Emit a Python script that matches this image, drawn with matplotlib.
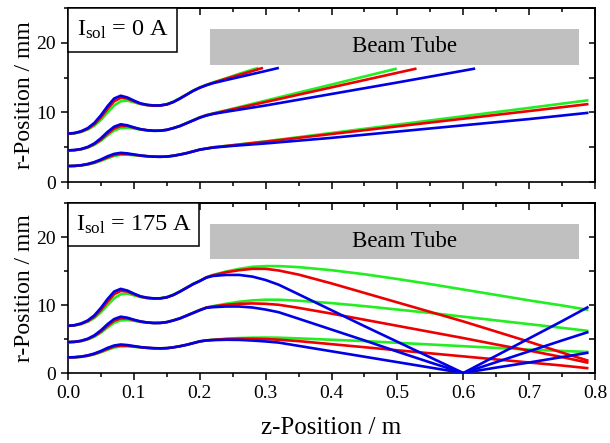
import numpy as np
import matplotlib
matplotlib.use("Agg")
import matplotlib.pyplot as plt
from matplotlib.patches import Rectangle
from matplotlib.ticker import MultipleLocator

plt.rcParams['font.family'] = ['Liberation Serif', 'DejaVu Serif']
plt.rcParams['mathtext.fontset'] = 'custom'
plt.rcParams['mathtext.rm'] = 'Liberation Serif'

# --- data (z in m, r in mm) ---
# lens region, same in both panels
Z_LENS = [0.00, 0.01, 0.02, 0.03, 0.04, 0.05, 0.06, 0.07, 0.08, 0.09, 0.10,
          0.11, 0.12, 0.13, 0.14, 0.15, 0.16, 0.17, 0.18, 0.19, 0.20]
OUTER_BLUE = [6.95, 7.05, 7.3, 7.75, 8.5, 9.6, 10.9, 12.0, 12.4, 12.15, 11.7,
              11.3, 11.1, 11.0, 11.0, 11.15, 11.5, 12.0, 12.55, 13.1, 13.55]
OUTER_RED = [6.95, 7.03, 7.25, 7.65, 8.3, 9.3, 10.5, 11.6, 12.1, 12.0, 11.6,
             11.25, 11.05, 10.98, 11.0, 11.15, 11.5, 12.0, 12.55, 13.1, 13.55]
OUTER_GREEN = [6.95, 7.0, 7.2, 7.55, 8.1, 8.95, 10.0, 11.0, 11.6, 11.7, 11.45,
               11.2, 11.05, 10.98, 11.02, 11.2, 11.55, 12.05, 12.6, 13.15, 13.6]
MIDDLE_BLUE = [4.55, 4.6, 4.75, 5.05, 5.55, 6.3, 7.2, 7.95, 8.3, 8.15, 7.85,
               7.6, 7.45, 7.37, 7.38, 7.5, 7.75, 8.05, 8.45, 8.85, 9.25]
MIDDLE_RED = [4.55, 4.59, 4.72, 5.0, 5.45, 6.1, 6.95, 7.7, 8.05, 8.05, 7.8,
              7.58, 7.44, 7.37, 7.38, 7.5, 7.75, 8.05, 8.45, 8.85, 9.27]
MIDDLE_GREEN = [4.55, 4.58, 4.7, 4.95, 5.35, 5.95, 6.7, 7.4, 7.75, 7.8, 7.7,
                7.52, 7.42, 7.36, 7.38, 7.5, 7.77, 8.08, 8.48, 8.9, 9.3]
INNER_BLUE = [2.3, 2.33, 2.42, 2.6, 2.87, 3.25, 3.7, 4.05, 4.2, 4.12, 3.97,
              3.82, 3.72, 3.65, 3.63, 3.66, 3.78, 3.95, 4.15, 4.4, 4.65]
INNER_RED = [2.3, 2.32, 2.4, 2.56, 2.8, 3.15, 3.55, 3.9, 4.05, 4.02, 3.92,
             3.8, 3.71, 3.65, 3.63, 3.66, 3.78, 3.95, 4.15, 4.4, 4.66]
INNER_GREEN = [2.3, 2.32, 2.38, 2.52, 2.74, 3.05, 3.42, 3.75, 3.92, 3.93, 3.86,
               3.77, 3.7, 3.65, 3.64, 3.67, 3.79, 3.96, 4.17, 4.42, 4.68]

# I_sol = 0 A, drift part (outer / middle rays stop at the beam tube)
Z0_OUTER_BLUE = [0.21, 0.22, 0.24, 0.27, 0.30, 0.32]
R0_OUTER_BLUE = [13.9, 14.2, 14.65, 15.3, 15.95, 16.4]
Z0_OUTER_RED = [0.21, 0.22, 0.24, 0.26, 0.28, 0.296]
R0_OUTER_RED = [13.95, 14.25, 14.85, 15.4, 15.95, 16.4]
Z0_OUTER_GREEN = [0.21, 0.22, 0.24, 0.26, 0.28, 0.289]
R0_OUTER_GREEN = [13.95, 14.3, 14.9, 15.55, 16.15, 16.4]
Z0_MIDDLE_BLUE = [0.21, 0.22, 0.24, 0.30, 0.40, 0.50, 0.618]
R0_MIDDLE_BLUE = [9.55, 9.78, 10.1, 11.0, 12.65, 14.3, 16.3]
Z0_MIDDLE_RED = [0.21, 0.22, 0.24, 0.30, 0.40, 0.529]
R0_MIDDLE_RED = [9.6, 9.82, 10.25, 11.5, 13.6, 16.3]
Z0_MIDDLE_GREEN = [0.21, 0.22, 0.24, 0.30, 0.40, 0.499]
R0_MIDDLE_GREEN = [9.62, 9.86, 10.3, 11.7, 14.0, 16.3]
Z0_INNER = [0.21, 0.22, 0.25, 0.30, 0.35, 0.40, 0.50, 0.60, 0.70, 0.79]
R0_INNER_BLUE = [4.8, 4.95, 5.2, 5.55, 5.95, 6.35, 7.25, 8.15, 9.05, 9.95]
R0_INNER_RED = [4.82, 4.98, 5.28, 5.8, 6.35, 6.9, 8.0, 9.1, 10.2, 11.2]
R0_INNER_GREEN = [4.82, 5.0, 5.3, 5.85, 6.45, 7.05, 8.25, 9.45, 10.65, 11.75]

# I_sol = 175 A, solenoid part
Z175 = [0.21, 0.22, 0.24, 0.26, 0.28, 0.30, 0.32, 0.35, 0.40, 0.45, 0.50,
        0.55, 0.60, 0.65, 0.70, 0.75, 0.79]
R175_OUTER_BLUE = [14.05, 14.3, 14.45, 14.45, 14.2, 13.7, 13.0, 11.6, 9.25, 6.9,
                   4.6, 2.3, 0.0, 2.55, 5.1, 7.65, 9.75]
R175_OUTER_RED = [14.1, 14.4, 14.85, 15.15, 15.35, 15.35, 15.1, 14.5, 13.2, 11.8,
                  10.4, 9.0, 7.6, 6.1, 4.6, 3.0, 1.8]
R175_OUTER_GREEN = [14.1, 14.45, 14.95, 15.35, 15.65, 15.75, 15.75, 15.6, 15.15,
                    14.55, 13.85, 13.1, 12.3, 11.5, 10.7, 9.95, 9.3]
R175_MIDDLE_BLUE = [9.6, 9.7, 9.8, 9.8, 9.65, 9.35, 8.95, 8.0, 6.4, 4.8, 3.15,
                    1.55, 0.0, 1.6, 3.2, 4.8, 6.05]
R175_MIDDLE_RED = [9.65, 9.8, 10.05, 10.2, 10.25, 10.2, 10.05, 9.6, 8.75, 7.85,
                   6.95, 6.05, 5.15, 4.2, 3.3, 2.35, 1.5]
R175_MIDDLE_GREEN = [9.65, 9.85, 10.2, 10.5, 10.7, 10.8, 10.8, 10.65, 10.3, 9.85,
                     9.35, 8.85, 8.3, 7.75, 7.2, 6.65, 6.2]
R175_INNER_BLUE = [4.8, 4.85, 4.9, 4.88, 4.78, 4.65, 4.48, 4.0, 3.2, 2.4, 1.6,
                   0.8, 0.0, 0.8, 1.55, 2.35, 3.0]
R175_INNER_RED = [4.8, 4.88, 5.0, 5.05, 5.05, 5.0, 4.9, 4.7, 4.25, 3.8, 3.35,
                  2.9, 2.45, 2.0, 1.55, 1.1, 0.7]
R175_INNER_GREEN = [4.8, 4.9, 5.05, 5.15, 5.2, 5.22, 5.2, 5.1, 4.9, 4.7, 4.45,
                    4.2, 3.95, 3.7, 3.45, 3.25, 3.1]

TUBE_Z = (0.215, 0.775)
TUBE_R = (16.8, 22.0)

GREEN = '#22ee22'
RED = '#ee0000'
BLUE = '#0000e6'
LW = 1.9


def style_axes(ax, show_xlabels):
    ax.set_xlim(0, 0.8)
    ax.set_ylim(0, 25)
    ax.xaxis.set_major_locator(MultipleLocator(0.1))
    ax.xaxis.set_minor_locator(MultipleLocator(0.05))
    ax.yaxis.set_major_locator(MultipleLocator(10))
    ax.yaxis.set_minor_locator(MultipleLocator(5))
    ax.tick_params(which='both', direction='out', top=False, right=False,
                   labelsize=14, width=1.1)
    ax.tick_params(which='major', length=5)
    ax.tick_params(which='minor', length=3)
    ax.xaxis.set_major_formatter(matplotlib.ticker.FormatStrFormatter('%.1f'))
    if not show_xlabels:
        ax.tick_params(axis='x', labelbottom=False)
    # inward mirror ticks on top and right
    top = ax.secondary_xaxis('top')
    top.xaxis.set_major_locator(MultipleLocator(0.1))
    top.xaxis.set_minor_locator(MultipleLocator(0.05))
    top.tick_params(which='both', direction='in', labeltop=False, width=1.1)
    top.tick_params(which='major', length=5)
    top.tick_params(which='minor', length=3)
    right = ax.secondary_yaxis('right')
    right.yaxis.set_major_locator(MultipleLocator(10))
    right.yaxis.set_minor_locator(MultipleLocator(5))
    right.tick_params(which='both', direction='in', labelright=False, width=1.1,
                      length=4.5)
    for sp in list(ax.spines.values()) + [top.spines['top'], right.spines['right']]:
        sp.set_linewidth(1.2)
    ax.set_ylabel('r-Position / mm', fontsize=17, labelpad=1)
    ax.add_patch(Rectangle((TUBE_Z[0], TUBE_R[0]), TUBE_Z[1] - TUBE_Z[0],
                           TUBE_R[1] - TUBE_R[0], facecolor='#c0c0c0',
                           edgecolor='none', zorder=1))
    ax.text(0.51, (TUBE_R[0] + TUBE_R[1]) / 2, 'Beam Tube', fontsize=16.5,
            ha='center', va='center', zorder=2)


def draw(ax, z, r, color):
    ax.plot(z, r, color=color, lw=LW, solid_capstyle='butt', zorder=3)


def label_box(ax, text, width):
    ax.add_patch(Rectangle((0, 0.747), width, 0.253, transform=ax.transAxes,
                           facecolor='white', edgecolor='black', lw=1.1,
                           zorder=5, clip_on=False))
    ax.text(width / 2, 0.875, text, transform=ax.transAxes, fontsize=17.5,
            ha='center', va='center', zorder=6)


fig = plt.figure(figsize=(6.1, 4.43), dpi=100)
ax1 = fig.add_axes([0.1115, 0.589, 0.864, 0.393])
ax2 = fig.add_axes([0.1115, 0.158, 0.864, 0.383])

style_axes(ax1, False)
style_axes(ax2, True)

# top panel: I_sol = 0 A
for lens, zt, rt, col in [
        (OUTER_GREEN, Z0_OUTER_GREEN, R0_OUTER_GREEN, GREEN),
        (MIDDLE_GREEN, Z0_MIDDLE_GREEN, R0_MIDDLE_GREEN, GREEN),
        (INNER_GREEN, Z0_INNER, R0_INNER_GREEN, GREEN),
        (OUTER_RED, Z0_OUTER_RED, R0_OUTER_RED, RED),
        (MIDDLE_RED, Z0_MIDDLE_RED, R0_MIDDLE_RED, RED),
        (INNER_RED, Z0_INNER, R0_INNER_RED, RED),
        (OUTER_BLUE, Z0_OUTER_BLUE, R0_OUTER_BLUE, BLUE),
        (MIDDLE_BLUE, Z0_MIDDLE_BLUE, R0_MIDDLE_BLUE, BLUE),
        (INNER_BLUE, Z0_INNER, R0_INNER_BLUE, BLUE)]:
    draw(ax1, np.concatenate([Z_LENS, zt]), np.concatenate([lens, rt]), col)

# bottom panel: I_sol = 175 A
for lens, rt, col in [
        (OUTER_GREEN, R175_OUTER_GREEN, GREEN),
        (MIDDLE_GREEN, R175_MIDDLE_GREEN, GREEN),
        (INNER_GREEN, R175_INNER_GREEN, GREEN),
        (OUTER_RED, R175_OUTER_RED, RED),
        (MIDDLE_RED, R175_MIDDLE_RED, RED),
        (INNER_RED, R175_INNER_RED, RED),
        (OUTER_BLUE, R175_OUTER_BLUE, BLUE),
        (MIDDLE_BLUE, R175_MIDDLE_BLUE, BLUE),
        (INNER_BLUE, R175_INNER_BLUE, BLUE)]:
    draw(ax2, np.concatenate([Z_LENS, Z175]), np.concatenate([lens, rt]), col)

label_box(ax1, r'$\mathrm{I_{sol}}$ = 0 A', 0.207)
label_box(ax2, r'$\mathrm{I_{sol}}$ = 175 A', 0.249)

ax2.set_xlabel('z-Position / m', fontsize=18, labelpad=11)

fig.savefig('out.png', dpi=100)
